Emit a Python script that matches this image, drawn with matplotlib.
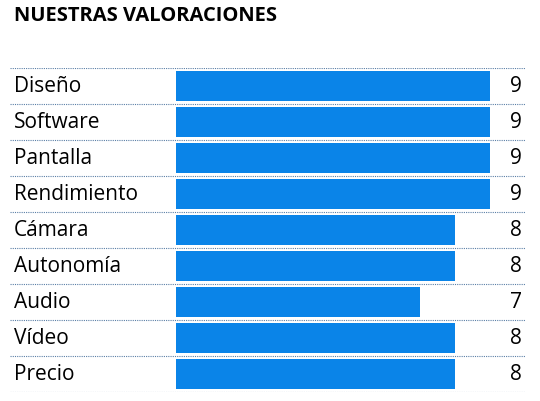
import matplotlib.pyplot as plt

categories = ['Diseño', 'Software', 'Pantalla', 'Rendimiento', 'Cámara',
              'Autonomía', 'Audio', 'Vídeo', 'Precio']
values = [9, 9, 9, 9, 8, 8, 7, 8, 8]

W, H = 540, 401
fig = plt.figure(figsize=(W / 100, H / 100), dpi=100)
plt.rcParams['font.family'] = ['Open Sans', 'DejaVu Sans']

# axes spans pixel x 10..525, y 68..392
x0, x1, y0, y1 = 10, 525, 68, 392
ax = fig.add_axes([x0 / W, 1 - y1 / H, (x1 - x0) / W, (y1 - y0) / H])
upp = 9 / 314  # data units per pixel, zero at x=176
ax.set_xlim(-(176 - x0) * upp, 9 + (x1 - 490) * upp)
ax.set_ylim(len(categories), 0)
ax.axis('off')

pos = [i + 0.5 for i in range(len(categories))]
ax.barh(pos, values, height=0.85, color='#0A84E8', zorder=2)

for i, (c, v) in enumerate(zip(categories, values)):
    ax.text(-(176 - 14) * upp, i + 0.5, c, va='center', ha='left', fontsize=15)
    ax.text(9 + (522 - 490) * upp, i + 0.5, str(v), va='center', ha='right', fontsize=15)
for i in range(len(categories) + 1):
    ax.axhline(i, color='#5a7fa6', linewidth=0.8, linestyle=(0, (1, 1)), zorder=1)

fig.text(14 / W, 1 - 16 / H, 'NUESTRAS VALORACIONES', fontsize=14.5,
         fontweight='bold', va='center', ha='left')

fig.savefig('out.png', dpi=100)
